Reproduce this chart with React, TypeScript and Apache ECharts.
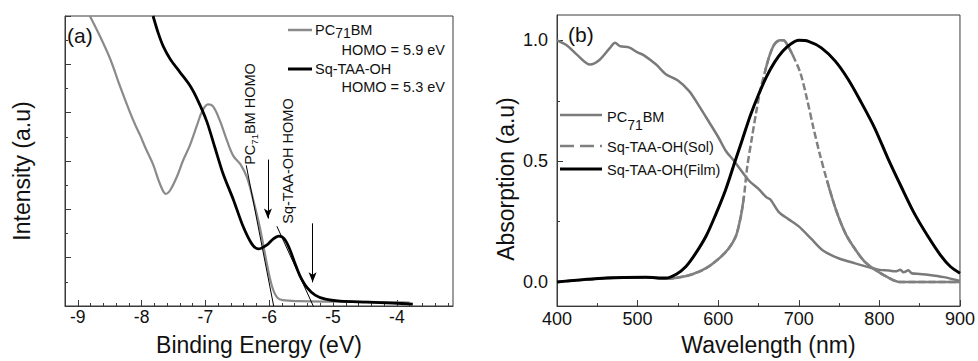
import React, { useEffect, useRef } from "react";
import * as echarts from "echarts";

const FONT = '"Liberation Sans", Arial, Helvetica, sans-serif';

// ---- Panel (a): UPS spectra ----
const pcBindX = [-8.81, -8.65, -8.49, -8.34, -8.18, -8.1, -8.02, -7.94, -7.82, -7.71, -7.62, -7.55, -7.45, -7.35, -7.24, -7.13, -7.05, -6.96, -6.88, -6.77, -6.66, -6.56, -6.45, -6.35, -6.25, -6.14, -6.04, -5.96, -5.88, -5.79, -5.52, -5.0, -4.5, -4.0, -3.8];
const pcBindY = [12.0, 11.15, 10.21, 9.11, 8.0, 7.5, 7.05, 6.55, 5.86, 5.04, 4.64, 4.8, 5.33, 6.02, 6.67, 7.49, 8.06, 8.34, 8.26, 7.65, 6.83, 6.2, 5.86, 5.33, 4.39, 3.17, 1.79, 0.85, 0.37, 0.24, 0.2, 0.18, 0.17, 0.15, 0.14];
const sqBindX = [-7.82, -7.74, -7.66, -7.55, -7.4, -7.24, -7.11, -6.98, -6.85, -6.72, -6.56, -6.41, -6.27, -6.17, -6.04, -5.94, -5.85, -5.76, -5.68, -5.6, -5.52, -5.41, -5.28, -5.12, -4.89, -4.47, -4.06, -3.75];
const sqBindY = [12.0, 11.3, 10.74, 10.21, 9.68, 9.11, 8.46, 7.65, 6.55, 5.45, 4.39, 3.3, 2.56, 2.36, 2.52, 2.77, 2.89, 2.77, 2.36, 1.79, 1.26, 0.77, 0.45, 0.28, 0.2, 0.16, 0.12, 0.08];
const pcTangent = [[-6.36, 5.82], [-5.93, 0]];
const sqTangent = [[-5.88, 3.3], [-5.31, 0]];
const pcArrow = [[-6.02, 6.06], [-6.02, 3.62]];
const sqArrow = [[-5.32, 3.42], [-5.32, 0.98]];
const leftXMajor = [-9, -8, -7, -6, -5, -4];
const leftXMinor = [-8.8, -8.6, -8.4, -8.2, -7.8, -7.6, -7.4, -7.2, -6.8, -6.6, -6.4, -6.2, -5.8, -5.6, -5.4, -5.2, -4.8, -4.6, -4.4, -4.2, -3.8, -3.6, -3.4, -3.2];

// ---- Panel (b): absorption ----
const pcAbsX = [400, 412, 425, 441, 453, 466, 472, 478, 490, 500, 507, 523, 535, 550, 564, 576, 589, 600, 610, 620, 638, 650, 660, 665, 675, 687, 700, 715, 730, 750, 770, 790, 800, 812, 820, 826, 830, 836, 840, 850, 860, 880, 900];
const pcAbsY = [1.0, 0.98, 0.94, 0.9, 0.92, 0.97, 0.99, 0.976, 0.97, 0.95, 0.94, 0.9, 0.86, 0.834, 0.79, 0.73, 0.66, 0.6, 0.54, 0.5, 0.42, 0.385, 0.35, 0.34, 0.29, 0.26, 0.23, 0.18, 0.13, 0.097, 0.077, 0.058, 0.05, 0.047, 0.044, 0.05, 0.04, 0.048, 0.036, 0.033, 0.03, 0.02, 0.004];
const solX = [400, 430, 462, 510, 535, 552, 568, 585, 601, 613, 622, 628, 632, 636, 642, 647, 652, 658, 664, 670, 677, 681, 686, 693, 702, 710, 718, 726, 735, 746, 758, 770, 782, 795, 810, 825, 900];
const solY = [0, 0.008, 0.016, 0.019, 0.013, 0.019, 0.032, 0.057, 0.097, 0.138, 0.19, 0.27, 0.354, 0.476, 0.6, 0.7, 0.79, 0.87, 0.94, 0.985, 1.0, 1.0, 0.98, 0.935, 0.865, 0.76, 0.64, 0.53, 0.42, 0.3, 0.2, 0.135, 0.083, 0.05, 0.02, 0, 0];
// wavelength ranges where the dashed Sol trace reads as solid in the original (dense points)
const solDenseRanges = [[400, 632], [658, 693], [735, 900]];
const filmX = [400, 462, 510, 535, 548, 560, 572, 585, 597, 609, 620, 630, 640, 650, 660, 670, 680, 690, 700, 712, 728, 745, 761, 777, 794, 810, 827, 843, 860, 876, 888, 900];
const filmY = [0, 0.016, 0.019, 0.016, 0.032, 0.064, 0.118, 0.19, 0.28, 0.38, 0.49, 0.59, 0.69, 0.775, 0.85, 0.91, 0.955, 0.985, 1.0, 0.996, 0.969, 0.915, 0.84, 0.746, 0.638, 0.516, 0.395, 0.286, 0.19, 0.11, 0.064, 0.036];
const rightYMajor = [0, 0.5, 1.0];
const rightYMinor = [0.25, 0.75];

const zip = (xs: number[], ys: number[]) => xs.map((x, i) => [x, ys[i]]);

const AXIS_COLOR = "#3a3a3a";
const axisLine = { show: true, onZero: false, lineStyle: { color: AXIS_COLOR, width: 1 } };

export default function App() {
  const ref = useRef<HTMLDivElement>(null);
  useEffect(() => {
    if (!ref.current) return;
    const chart = echarts.init(ref.current, null, { renderer: "svg" });
    const subRich = (pad: number, size: number) => ({
      s: { fontSize: size, fontFamily: FONT, fill: "#111", padding: [pad, 0, 0, 0] },
    });
    const txt = (x: number, y: number, text: string, extra: any = {}) => ({
      type: "text",
      x,
      y,
      silent: true,
      style: {
        text,
        fill: "#111",
        fontSize: 14.5,
        fontFamily: FONT,
        align: "left",
        verticalAlign: "middle",
        ...extra,
      },
    });
    const seg = (x1: number, y1: number, x2: number, y2: number, stroke: string, lineWidth: number, lineDash?: number[]) => ({
      type: "line",
      silent: true,
      shape: { x1, y1, x2, y2 },
      style: { stroke, lineWidth, lineDash },
    });
    const arrowMark = (pts: number[][]) => ({
      silent: true,
      symbol: ["none", "arrow"],
      symbolSize: [6, 10],
      label: { show: false },
      lineStyle: { color: "#000", width: 1, type: "solid" },
      emphasis: { disabled: true },
      data: [[{ coord: pts[0] }, { coord: pts[1] }]],
    });
    const solDense = solX.map((x, i) =>
      solDenseRanges.some(([a, b]) => x >= a && x <= b) ? [x, solY[i]] : [x, null]
    );

    chart.setOption({
      animation: false,
      grid: [
        { left: 65, top: 16, width: 388, height: 295, show: true, borderColor: AXIS_COLOR, borderWidth: 1 },
        { left: 557, top: 15, width: 406, height: 297, show: true, borderColor: AXIS_COLOR, borderWidth: 1 },
      ],
      xAxis: [
        {
          gridIndex: 0,
          type: "value",
          min: -9.2,
          max: -3.12,
          axisLine,
          axisTick: { inside: true, length: 6, customValues: leftXMajor, lineStyle: { color: AXIS_COLOR } },
          axisLabel: { customValues: leftXMajor, margin: 2, fontSize: 17.5, color: "#111", fontFamily: FONT, formatter: (v: number) => String(v) },
          splitLine: { show: false },
          name: "Binding Energy (eV)",
          nameLocation: "middle",
          nameGap: 27,
          nameTextStyle: { fontSize: 23, color: "#111", fontFamily: FONT },
        },
        {
          gridIndex: 0,
          type: "value",
          min: -9.2,
          max: -3.12,
          position: "bottom",
          axisLine: { show: false, onZero: false },
          axisTick: { inside: true, length: 3, customValues: leftXMinor, lineStyle: { color: AXIS_COLOR } },
          axisLabel: { show: false },
          splitLine: { show: false },
        },
        {
          gridIndex: 1,
          type: "value",
          min: 400,
          max: 900,
          interval: 100,
          axisLine,
          axisTick: { inside: true, length: 6, lineStyle: { color: AXIS_COLOR } },
          minorTick: { show: true, splitNumber: 2, length: 3, lineStyle: { color: AXIS_COLOR } },
          axisLabel: { margin: 4, fontSize: 18, color: "#111", fontFamily: FONT },
          splitLine: { show: false },
          name: "Wavelength (nm)",
          nameLocation: "middle",
          nameGap: 22,
          nameTextStyle: { fontSize: 23, color: "#111", fontFamily: FONT, padding: [0, 0, 0, 20] },
        },
      ],
      yAxis: [
        {
          gridIndex: 0,
          type: "value",
          min: 0,
          max: 12,
          interval: 2,
          axisLine,
          axisTick: { inside: true, length: 6, lineStyle: { color: AXIS_COLOR } },
          minorTick: { show: true, splitNumber: 2, length: 3, lineStyle: { color: AXIS_COLOR } },
          axisLabel: { show: false },
          splitLine: { show: false },
          name: "Intensity (a.u)",
          nameLocation: "middle",
          nameGap: 32,
          nameTextStyle: { fontSize: 23, color: "#111", fontFamily: FONT, padding: [0, 20, 0, 0] },
        },
        {
          gridIndex: 1,
          type: "value",
          min: -0.1,
          max: 1.105,
          axisLine,
          axisTick: { inside: true, length: 6, customValues: rightYMajor, lineStyle: { color: AXIS_COLOR } },
          axisLabel: { customValues: rightYMajor, margin: 9, fontSize: 18, color: "#111", fontFamily: FONT, formatter: (v: number) => v.toFixed(1) },
          splitLine: { show: false },
          name: "Absorption (a.u)",
          nameLocation: "middle",
          nameGap: 40,
          nameTextStyle: { fontSize: 23, color: "#111", fontFamily: FONT, padding: [0, 37, 0, 0] },
        },
        {
          gridIndex: 1,
          type: "value",
          min: -0.1,
          max: 1.105,
          position: "left",
          axisLine: { show: false, onZero: false },
          axisTick: { inside: true, length: 3, customValues: rightYMinor, lineStyle: { color: AXIS_COLOR } },
          axisLabel: { show: false },
          splitLine: { show: false },
        },
      ],
      series: [
        {
          name: "PC71BM",
          type: "line",
          xAxisIndex: 0,
          yAxisIndex: 0,
          data: zip(pcBindX, pcBindY),
          smooth: 0.35,
          symbol: "none",
          lineStyle: { color: "#8a8a8a", width: 2.2 },
        },
        {
          name: "Sq-TAA-OH",
          type: "line",
          xAxisIndex: 0,
          yAxisIndex: 0,
          data: zip(sqBindX, sqBindY),
          smooth: 0.3,
          symbol: "none",
          lineStyle: { color: "#000", width: 2.8 },
        },
        {
          name: "PC71BM tangent",
          type: "line",
          xAxisIndex: 0,
          yAxisIndex: 0,
          data: pcTangent,
          symbol: "none",
          lineStyle: { color: "#000", width: 1 },
          markLine: arrowMark(pcArrow),
        },
        {
          name: "Sq-TAA-OH tangent",
          type: "line",
          xAxisIndex: 0,
          yAxisIndex: 0,
          data: sqTangent,
          symbol: "none",
          lineStyle: { color: "#000", width: 1 },
          markLine: arrowMark(sqArrow),
        },
        {
          name: "PC71BM abs",
          type: "line",
          xAxisIndex: 2,
          yAxisIndex: 1,
          data: zip(pcAbsX, pcAbsY),
          smooth: 0.3,
          symbol: "none",
          lineStyle: { color: "#7a7a7a", width: 2.5 },
        },
        {
          name: "Sq-TAA-OH(Sol)",
          type: "line",
          xAxisIndex: 2,
          yAxisIndex: 1,
          data: zip(solX, solY),
          smooth: 0.3,
          symbol: "none",
          lineStyle: { color: "#808080", width: 2.5, type: [7, 3] },
        },
        {
          name: "Sq-TAA-OH(Sol) dense",
          type: "line",
          xAxisIndex: 2,
          yAxisIndex: 1,
          data: solDense,
          connectNulls: false,
          smooth: 0.3,
          symbol: "none",
          lineStyle: { color: "#808080", width: 2.5 },
        },
        {
          name: "Sq-TAA-OH(Film)",
          type: "line",
          xAxisIndex: 2,
          yAxisIndex: 1,
          data: zip(filmX, filmY),
          smooth: 0.3,
          symbol: "none",
          lineStyle: { color: "#000", width: 3 },
        },
      ],
      graphic: [
        txt(67, 35, "(a)", { fontSize: 21 }),
        txt(568, 34, "(b)", { fontSize: 21 }),
        // legend (a)
        seg(288, 30, 312, 30, "#8a8a8a", 2.5),
        txt(315, 30, "PC{s|71}BM", { rich: subRich(6, 14) }),
        txt(445, 50, "HOMO = 5.9 eV", { align: "right" }),
        seg(288, 69, 312, 69, "#000", 3),
        txt(315, 69, "Sq-TAA-OH"),
        txt(445, 87, "HOMO = 5.3 eV", { align: "right" }),
        // rotated annotations
        {
          ...txt(250, 114, "PC{s|71}BM HOMO", { align: "center", rich: subRich(8, 9.5) }),
          rotation: Math.PI / 2,
        },
        {
          ...txt(288, 161, "Sq-TAA-OH HOMO", { align: "center" }),
          rotation: Math.PI / 2,
        },
        // legend (b)
        seg(560, 115, 602, 115, "#7a7a7a", 2.5),
        txt(607, 117, "PC{s|71}BM", { rich: subRich(16, 14) }),
        seg(560, 146, 602, 146, "#808080", 2.5, [14, 6]),
        txt(607, 147, "Sq-TAA-OH(Sol)"),
        seg(560, 169, 602, 169, "#000", 3),
        txt(607, 170, "Sq-TAA-OH(Film)"),
      ],
    });
    return () => chart.dispose();
  }, []);
  return <div ref={ref} style={{ position: "fixed", left: 0, top: 0, width: 978, height: 361, background: "#fff" }} />;
}
